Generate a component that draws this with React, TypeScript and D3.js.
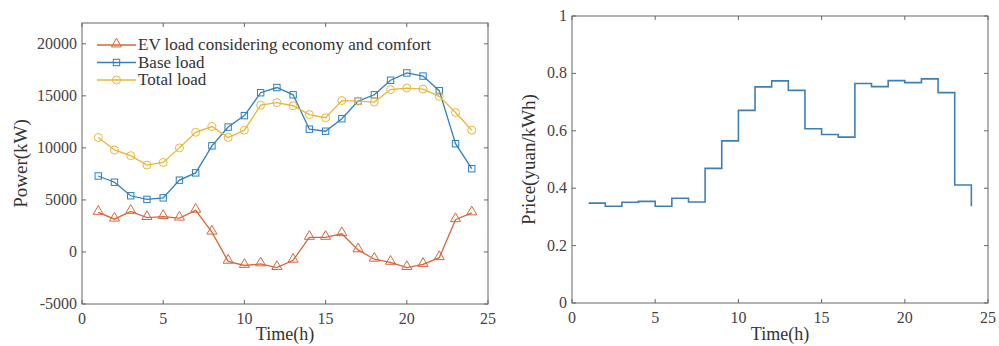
import React from 'react';
import * as d3 from 'd3';

const hours = d3.range(1, 25);

const evLoad = [3800, 3150, 3900, 3300, 3400, 3250, 4000, 1900, -900, -1300, -1150, -1500,
  -800, 1400, 1400, 1750, 200, -700, -1000, -1500, -1200, -550, 3100, 3750];
const baseLoad = [7300, 6700, 5400, 5050, 5200, 6900, 7600, 10200, 12000, 13100, 15300, 15800,
  15100, 11800, 11600, 12800, 14500, 15100, 16500, 17200, 16900, 15500, 10400, 8000];
const totalLoad = [11000, 9800, 9250, 8350, 8600, 10000, 11500, 12050, 11000, 11700, 14100, 14350,
  14050, 13200, 12900, 14550, 14500, 14400, 15600, 15750, 15650, 14950, 13400, 11700];

const price = [0.348, 0.337, 0.351, 0.354, 0.337, 0.365, 0.352, 0.469, 0.565, 0.671, 0.753, 0.774,
  0.741, 0.607, 0.587, 0.578, 0.765, 0.754, 0.775, 0.768, 0.781, 0.733, 0.411, 0.337];

const xTicks = [0, 5, 10, 15, 20, 25];
const powerTicks = [-5000, 0, 5000, 10000, 15000, 20000];
const priceTicks = [0, 0.2, 0.4, 0.6, 0.8, 1];

const seriesNames = ['EV load considering economy and comfort', 'Base load', 'Total load'];
const COLORS = ['#d9653a', '#2d7fc0', '#e9b53a'];

const FONT = '"Liberation Serif", "DejaVu Serif", serif';
const AXIS = '#666';
const TICK = 4;

function Frame({ x, y, left, right, top, bottom, yTicks, yFmt }: any) {
  return (
    <g>
      <rect x={left} y={top} width={right - left} height={bottom - top} fill="none" stroke={AXIS} strokeWidth={1} />
      {xTicks.map(t => (
        <g key={'x' + t}>
          <line x1={x(t)} x2={x(t)} y1={bottom} y2={bottom - TICK} stroke={AXIS} />
          <line x1={x(t)} x2={x(t)} y1={top} y2={top + TICK} stroke={AXIS} />
          <text x={x(t)} y={bottom + 20} textAnchor="middle" fontSize={16} fill="#444">{t}</text>
        </g>
      ))}
      {yTicks.map((t: number) => (
        <g key={'y' + t}>
          <line x1={left} x2={left + TICK} y1={y(t)} y2={y(t)} stroke={AXIS} />
          <line x1={right} x2={right - TICK} y1={y(t)} y2={y(t)} stroke={AXIS} />
          <text x={left - 5} y={y(t) + 5} textAnchor="end" fontSize={16} fill="#444">{yFmt(t)}</text>
        </g>
      ))}
      <text x={(left + right) / 2} y={340} textAnchor="middle" fontSize={18} fill="#333">Time(h)</text>
    </g>
  );
}

function Marker({ kind, cx, cy, color }: any) {
  if (kind === 0) {
    const s = d3.symbol(d3.symbolTriangle, 44)();
    return <path d={s || ''} transform={`translate(${cx},${cy - 1})`} fill="none" stroke={color} strokeWidth={1} />;
  }
  if (kind === 1) {
    return <rect x={cx - 3.2} y={cy - 3.2} width={6.4} height={6.4} fill="none" stroke={color} strokeWidth={1} />;
  }
  return <circle cx={cx} cy={cy} r={4} fill="none" stroke={color} strokeWidth={1} />;
}

export default function App() {
  // left panel
  const L = { left: 82, right: 488, top: 23, bottom: 304 };
  const x1 = d3.scaleLinear().domain([0, 25]).range([L.left, L.right]);
  const y1 = d3.scaleLinear().domain([-5000, 22000]).range([L.bottom, L.top]);
  const line1 = d3.line<number>().x((_, i) => x1(hours[i])).y(d => y1(d));
  const allSeries = [evLoad, baseLoad, totalLoad];

  // right panel
  const R = { left: 572, right: 988, top: 16, bottom: 303 };
  const x2 = d3.scaleLinear().domain([0, 25]).range([R.left, R.right]);
  const y2 = d3.scaleLinear().domain([0, 1]).range([R.bottom, R.top]);
  const stairs = d3.line<number>().x((_, i) => x2(hours[i])).y(d => y2(d)).curve(d3.curveStepAfter);

  return (
    <svg width={999} height={346} style={{ position: 'absolute', left: 0, top: 0, background: '#fff' }} fontFamily={FONT}>
      <rect width={999} height={346} fill="#fff" />
      <Frame x={x1} y={y1} {...L} yTicks={powerTicks} yFmt={(t: number) => String(t)} />
      {allSeries.map((s, k) => (
        <g key={k}>
          <path d={line1(s) || ''} fill="none" stroke={COLORS[k]} strokeWidth={1.3} />
          {s.map((v, i) => <Marker key={i} kind={k} cx={x1(hours[i])} cy={y1(v)} color={COLORS[k]} />)}
        </g>
      ))}
      {seriesNames.map((n, k) => {
        const ly = 45 + k * 17.5;
        return (
          <g key={n}>
            <line x1={97} x2={136} y1={ly} y2={ly} stroke={COLORS[k]} strokeWidth={1.3} />
            <Marker kind={k} cx={116.5} cy={ly} color={COLORS[k]} />
            <text x={138} y={ly + 5} fontSize={17} fill="#333">{n}</text>
          </g>
        );
      })}
      <text transform={`translate(27,${(L.top + L.bottom) / 2}) rotate(-90)`} textAnchor="middle" fontSize={19} fill="#333">Power(kW)</text>

      <Frame x={x2} y={y2} {...R} yTicks={priceTicks} yFmt={(t: number) => (t === 0 || t === 1 ? String(t) : t.toFixed(1))} />
      <path d={stairs(price) || ''} fill="none" stroke="#3f7fb3" strokeWidth={1.6} />
      <text transform={`translate(535,${(R.top + R.bottom) / 2}) rotate(-90)`} textAnchor="middle" fontSize={19} fill="#333">Price(yuan/kWh)</text>
    </svg>
  );
}
